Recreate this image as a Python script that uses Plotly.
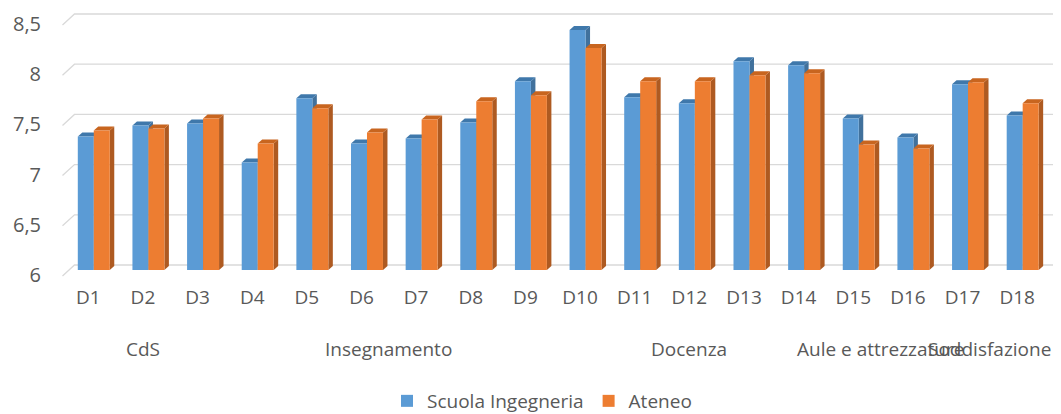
import plotly.graph_objects as go

categories = ["D1", "D2", "D3", "D4", "D5", "D6", "D7", "D8", "D9", "D10",
              "D11", "D12", "D13", "D14", "D15", "D16", "D17", "D18"]
scuola = [7.33, 7.44, 7.46, 7.07, 7.71, 7.26, 7.31, 7.47, 7.88, 8.39,
          7.72, 7.66, 8.08, 8.04, 7.51, 7.32, 7.85, 7.54]
ateneo = [7.39, 7.41, 7.51, 7.26, 7.61, 7.37, 7.50, 7.68, 7.74, 8.21,
          7.88, 7.88, 7.94, 7.96, 7.25, 7.21, 7.87, 7.66]
groups = [("CdS", 0, 2), ("Insegnamento", 3, 8), ("Docenza", 9, 13),
          ("Aule e attrezzature", 14, 15), ("Soddisfazione", 16, 17)]
series_names = ["Scuola Ingegneria", "Ateneo"]
yticks = [6, 6.5, 7, 7.5, 8, 8.5]

BLUE, BLUE_SIDE, BLUE_TOP = "#5b9bd5", "#41719c", "#3f78ab"
ORANGE, ORANGE_SIDE, ORANGE_TOP = "#ed7d31", "#ae5a21", "#c8651f"
FONT = "Open Sans"
GREY = "#595959"

# the page body has an 8px default margin: compensate so the figure lands
# where the reference chart is in the 1061x414 window
PAGE_W, PAGE_H, BODY = 1061, 414, 8
W, H = PAGE_W - BODY, PAGE_H - BODY
BASE = 6.0
base_px = 270          # page y of value 6 (bar bottoms)
top_px = 19            # page y of value 8.5
px_per_unit = (base_px - top_px) / (yticks[-1] - BASE)
extra_px = 8           # plot area extends a bit below the bars' base
plot_left, plot_right = 60.5, 1050.5
plot_top, plot_bottom = top_px, base_px + extra_px
ml = plot_left - BODY
mt = plot_top - BODY
mr = W - (plot_right - BODY)
mb = H - (plot_bottom - BODY)
plot_w = plot_right - plot_left
plot_h = plot_bottom - plot_top

xr = [-0.6, len(categories) - 0.5]
yr = [BASE - extra_px / px_per_unit, yticks[-1]]
px_per_cat = plot_w / (xr[1] - xr[0])

bargap = 0.415
bw = (1 - bargap) / 2
dx = 4.5 / px_per_cat
dy = 4.0 / px_per_unit
label_shift = -5.5 / px_per_cat
ylabel_shift = -5.0 / px_per_unit  # labels sit at the front ends of the gridlines

xs = list(range(len(categories)))

fig = go.Figure()
fig.add_trace(go.Bar(x=xs, y=[v - BASE for v in scuola], base=BASE, name=series_names[0],
                     marker=dict(color=BLUE, line=dict(width=0))))
fig.add_trace(go.Bar(x=xs, y=[v - BASE for v in ateneo], base=BASE, name=series_names[1],
                     marker=dict(color=ORANGE, line=dict(width=0))))

shapes = []


def px_to_paper_x(px):
    return (px - plot_left) / plot_w


def val_to_paper_y(v, px_offset=0.0):
    return (v - yr[0]) / (yr[1] - yr[0]) + px_offset / plot_h


# back-wall gridlines with slanted front ends (paper refs: not clipped)
gx0 = px_to_paper_x(62)
gx1 = px_to_paper_x(74)
gx2 = px_to_paper_x(1060)
for t in yticks:
    yf = val_to_paper_y(t, -6)
    yb = val_to_paper_y(t, 5)
    shapes.append(dict(type="path", xref="paper", yref="paper", layer="below",
                       path=f"M {gx0},{yf} L {gx1},{yb} L {gx2},{yb}",
                       line=dict(color="#d9d9d9", width=1.3)))

# 3D faces (side + top) drawn between grid and bars
for vals, off, side_c, top_c in [(scuola, -bw / 2, BLUE_SIDE, BLUE_TOP),
                                 (ateneo, bw / 2, ORANGE_SIDE, ORANGE_TOP)]:
    for i, v in enumerate(vals):
        x0 = i + off - bw / 2
        x1 = i + off + bw / 2
        side = (f"M {x1},{BASE} L {x1},{v} L {x1 + dx},{v + dy} "
                f"L {x1 + dx},{BASE + dy} Z")
        top = (f"M {x0},{v} L {x1},{v} L {x1 + dx},{v + dy} "
               f"L {x0 + dx},{v + dy} Z")
        shapes.append(dict(type="path", xref="x", yref="y", layer="between",
                           path=side, fillcolor=side_c, line=dict(width=0)))
        shapes.append(dict(type="path", xref="x", yref="y", layer="between",
                           path=top, fillcolor=top_c, line=dict(width=0)))

annotations = []
for name, a, b in groups:
    annotations.append(dict(text=name, x=(a + b) / 2 + label_shift, xref="x",
                            y=(plot_bottom - 349) / plot_h, yref="paper",
                            showarrow=False, xanchor="center", yanchor="middle",
                            font=dict(family=FONT, size=19, color=GREY)))

fig.update_layout(
    width=W, height=H,
    margin=dict(l=ml, r=mr, t=mt, b=mb, pad=0, autoexpand=False),
    paper_bgcolor="white", plot_bgcolor="white",
    barmode="group", bargap=bargap, bargroupgap=0,
    separators=",.",
    font=dict(family=FONT, size=19, color=GREY),
    shapes=shapes, annotations=annotations,
    showlegend=True,
    legend=dict(orientation="h", x=px_to_paper_x(542), xanchor="center",
                y=(plot_bottom - 401) / plot_h, yanchor="middle",
                font=dict(family=FONT, size=19, color=GREY),
                itemwidth=30, traceorder="normal"),
    xaxis=dict(range=xr, tickmode="array", tickvals=[x + label_shift for x in xs],
               ticktext=categories,
               showgrid=False, zeroline=False, showline=False, ticks="",
               ticklabelstandoff=14 - extra_px,
               tickfont=dict(family=FONT, size=19, color=GREY)),
    yaxis=dict(range=yr, tickmode="array",
               tickvals=[t + ylabel_shift for t in yticks],
               ticktext=[f"{t:g}".replace(".", ",") for t in yticks],
               showgrid=False, zeroline=False, showline=False, ticks="",
               ticklabeloverflow="allow",
               ticklabelstandoff=19, tickfont=dict(family=FONT, size=20, color=GREY)),
)

fig.write_html("out.html")
